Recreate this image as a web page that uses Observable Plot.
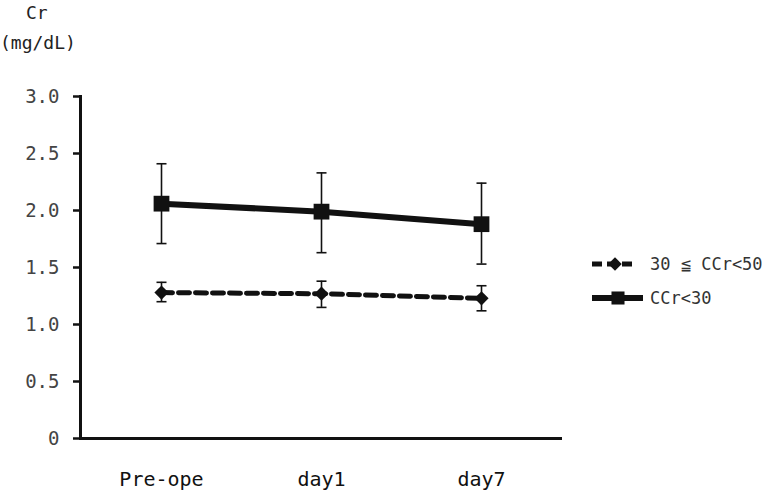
<!DOCTYPE html>
<html>
<head>
<meta charset="utf-8">
<script src="https://cdn.jsdelivr.net/npm/d3@7"></script>
<script src="https://cdn.jsdelivr.net/npm/@observablehq/plot@0.6"></script>
<style>
  html, body { margin: 0; padding: 0; background: #fff; }
  #wrap { position: relative; width: 766px; height: 490px; overflow: hidden; font-family: "DejaVu Sans Mono", monospace; }
  .ttl { position: absolute; color: #222; font-size: 18px; white-space: nowrap; }
  #legend { position: absolute; left: 586px; top: 247px; }
</style>
</head>
<body>
<div id="wrap">
  <div class="ttl" id="t1" style="left:26px; top:2px;">Cr</div>
  <div class="ttl" id="t2" style="left:0px; top:32px;">(mg/dL)</div>
</div>
<script>
const categories = ["Pre-ope", "day1", "day7"];
const seriesNames = ["30 ≦ CCr<50", "CCr<30"];
// 30 ≦ CCr<50
const meanMid = [1.28, 1.27, 1.23];
const upperMid = [1.37, 1.38, 1.34];
const lowerMid = [1.20, 1.15, 1.12];
// CCr<30
const meanLow = [2.06, 1.99, 1.88];
const upperLow = [2.41, 2.33, 2.24];
const lowerLow = [1.71, 1.63, 1.53];
const yTicks = [0, 0.5, 1.0, 1.5, 2.0, 2.5, 3.0];
const yTickLabels = ["0", "0.5", "1.0", "1.5", "2.0", "2.5", "3.0"];

const rows = [];
categories.forEach((c, i) => {
  rows.push({cat: c, series: seriesNames[0], mean: meanMid[i], lo: lowerMid[i], hi: upperMid[i]});
  rows.push({cat: c, series: seriesNames[1], mean: meanLow[i], lo: lowerLow[i], hi: upperLow[i]});
});
const mid = rows.filter(d => d.series === seriesNames[0]);
const low = rows.filter(d => d.series === seriesNames[1]);

// horizontal cap symbol for error bars
const capSymbol = {
  draw(context, size) {
    const w = Math.sqrt(size / Math.PI);
    context.moveTo(-w, 0);
    context.lineTo(w, 0);
  }
};

const plot = Plot.plot({
  width: 766,
  height: 490,
  marginLeft: 80,
  marginRight: 204,
  marginTop: 96,
  marginBottom: 52,
  style: {fontFamily: "DejaVu Sans Mono, monospace", background: "transparent", overflow: "visible"},
  x: {type: "point", domain: categories, padding: 0.5, label: null},
  y: {domain: [0, 3], label: null},
  marks: [
    Plot.axisY({ticks: yTicks, tickFormat: (d) => yTickLabels[yTicks.indexOf(d)], tickSize: 7, tickPadding: 14, fontSize: 19, fill: "#444", stroke: "#111", strokeWidth: 2.5, label: null}),
    Plot.axisX({tickSize: 0, tickPadding: 33, fontSize: 20, fill: "#111", label: null}),
    Plot.frame({anchor: "left", stroke: "#111", strokeWidth: 3}),
    Plot.ruleY([0], {stroke: "#111", strokeWidth: 3}),
    Plot.ruleX(rows, {x: "cat", y1: "lo", y2: "hi", stroke: "#111", strokeWidth: 1.6}),
    Plot.dot(rows, {x: "cat", y: "lo", symbol: capSymbol, r: 5, stroke: "#111", strokeWidth: 1.6, fill: "none"}),
    Plot.dot(rows, {x: "cat", y: "hi", symbol: capSymbol, r: 5, stroke: "#111", strokeWidth: 1.6, fill: "none"}),
    Plot.line(mid, {x: "cat", y: "mean", stroke: "#111", strokeWidth: 5, strokeDasharray: "11,6"}),
    Plot.line(low, {x: "cat", y: "mean", stroke: "#111", strokeWidth: 6}),
    Plot.dot(mid, {x: "cat", y: "mean", symbol: "diamond2", r: 6.4, fill: "#111", stroke: "none"}),
    Plot.dot(low, {x: "cat", y: "mean", symbol: "square", r: 8.9, fill: "#111", stroke: "none"})
  ]
});
document.getElementById("wrap").prepend(plot);

// legend
const lg = d3.select("#wrap").append("svg").attr("id", "legend").attr("width", 180).attr("height", 70);
const items = [
  {name: seriesNames[0], y: 17, dash: "10,5", sw: 5, sym: d3.symbolDiamond2, size: 115, x1: 6, x2: 50, cx: 29},
  {name: seriesNames[1], y: 51, dash: null, sw: 6, sym: d3.symbolSquare, size: 170, x1: 6, x2: 57, cx: 32}
];
items.forEach(it => {
  lg.append("line").attr("x1", it.x1).attr("x2", it.x2).attr("y1", it.y).attr("y2", it.y)
    .attr("stroke", "#111").attr("stroke-width", it.sw).attr("stroke-dasharray", it.dash);
  lg.append("path").attr("d", d3.symbol(it.sym, it.size)()).attr("transform", `translate(${it.cx},${it.y})`).attr("fill", "#111");
  lg.append("text").attr("x", 64).attr("y", it.y).attr("dy", "0.35em").attr("font-size", 17)
    .attr("fill", "#333").attr("font-family", "DejaVu Sans Mono, monospace").text(it.name);
});
</script>
</body>
</html>
